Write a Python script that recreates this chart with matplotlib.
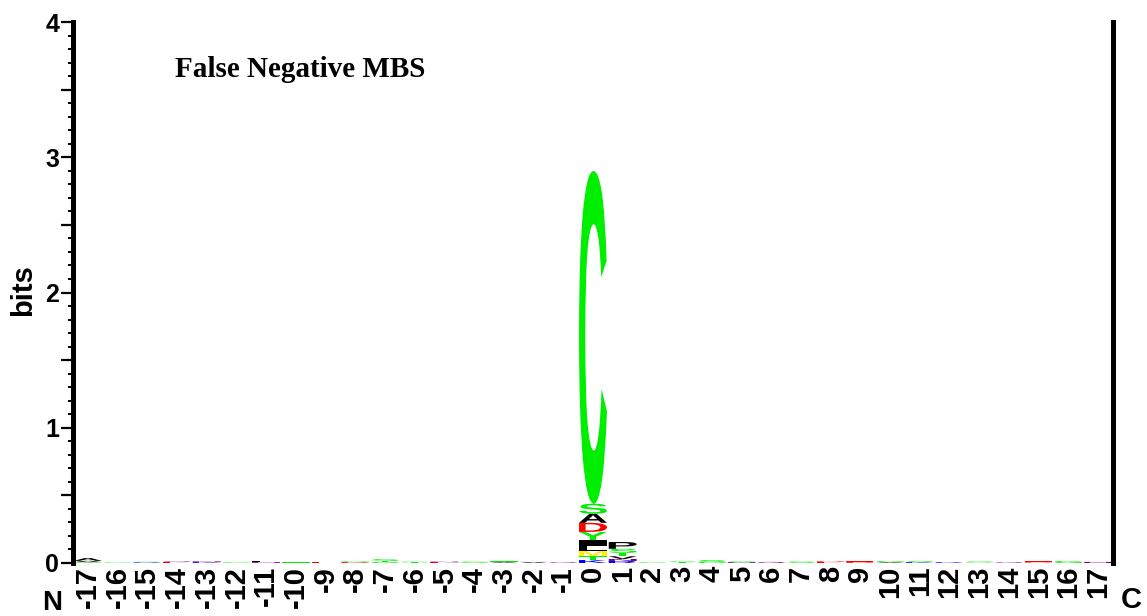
import matplotlib
matplotlib.use("Agg")
import matplotlib.pyplot as plt
from matplotlib.textpath import TextPath
from matplotlib.patches import PathPatch
from matplotlib.font_manager import FontProperties
from matplotlib.transforms import Affine2D
from matplotlib.ticker import MultipleLocator, FuncFormatter

W, H = 1147, 616

positions = list(range(-17, 18))

# residues in each column, bottom to top, with their heights in bits
stack_letters = [
    "GVA", "GE", "SR", "EQ", "KN", "GT", "NL", "TS", "E", "DG",
    "GTS", "TG", "EN", "GS", "AT", "V", "Q",
    "KTMLIYDASC",
    "RNVTSP",
    "GT", "TS", "GS", "NS", "Q", "S", "ED", "DE", "AG", "KS",
    "RE", "GTS", "Q", "DE", "G", "N",
]
stack_heights = [
    [0.006, 0.010, 0.020], [0.004, 0.004], [0.004, 0.004], [0.006, 0.006], [0.006, 0.006],
    [0.005, 0.005], [0.006, 0.006], [0.004, 0.004], [0.006], [0.006, 0.006],
    [0.008, 0.008, 0.012], [0.005, 0.005], [0.005, 0.005], [0.005, 0.005], [0.006, 0.006],
    [0.008], [0.006],
    [0.022, 0.030, 0.037, 0.037, 0.044, 0.060, 0.067, 0.067, 0.074, 2.46],
    [0.015, 0.015, 0.020, 0.025, 0.030, 0.050],
    [0.005, 0.005], [0.006, 0.006], [0.010, 0.012, 0.020], [0.006, 0.006], [0.008],
    [0.010], [0.006, 0.006], [0.006, 0.006], [0.006, 0.008], [0.006, 0.008],
    [0.005, 0.005], [0.004, 0.004, 0.004], [0.006], [0.004, 0.008], [0.015], [0.008],
]

colors = {}
for aa in "GSTYC":
    colors[aa] = "#00ee00"
for aa in "DE":
    colors[aa] = "#ff0000"
for aa in "KRH":
    colors[aa] = "#0000ff"
for aa in "AVLIPWF":
    colors[aa] = "#000000"
for aa in "NQ":
    colors[aa] = "#800080"
colors["M"] = "#ffee00"

letter_font = FontProperties(family="Liberation Sans", weight="bold")


def draw_letter(ax, ch, x, y, w, h, color):
    path = TextPath((0, 0), ch, size=1, prop=letter_font)
    ext = path.get_extents()
    t = (Affine2D()
         .translate(-ext.x0, -ext.y0)
         .scale(w / ext.width, h / ext.height)
         .translate(x, y))
    ax.add_patch(PathPatch(t.transform_path(path), facecolor=color,
                           edgecolor="none", lw=0))


fig = plt.figure(figsize=(W / 100, H / 100), dpi=100)
ax = fig.add_axes([73 / W, (H - 563) / H, (1113 - 73) / W, (563 - 22) / H])

col_w = 0.94
for pos, letters, heights in zip(positions, stack_letters, stack_heights):
    base = 0.0
    for ch, h in zip(letters, heights):
        draw_letter(ax, ch, pos - col_w / 2, base, col_w, h, colors[ch])
        base += h

ax.set_xlim(-17.5, 17.5)
ax.set_ylim(0, 4)

ax.spines["top"].set_visible(False)
ax.spines["bottom"].set_visible(False)
for side in ("left", "right"):
    ax.spines[side].set_linewidth(3.6)
    ax.spines[side].set_color("black")

ax.yaxis.set_major_locator(MultipleLocator(0.5))
ax.yaxis.set_minor_locator(MultipleLocator(0.1))
ax.yaxis.set_major_formatter(FuncFormatter(lambda v, _: f"{int(v)}" if v == int(v) else ""))
ax.tick_params(axis="y", which="major", length=9, width=1.6, pad=1,
               labelsize=18, right=False)
ax.tick_params(axis="y", which="minor", length=3.5, width=1.4, right=False)
for lab in ax.get_yticklabels():
    lab.set_fontweight("bold")
    lab.set_family("Liberation Sans")

ax.set_xticks(positions)
ax.set_xticklabels([str(p) for p in positions], rotation=90, va="top", ha="center",
                   fontsize=21, fontweight="bold", family="Liberation Sans")
ax.tick_params(axis="x", length=0, pad=2)

fig.text(23 / W, 1 - 290 / H, "bits", rotation=90, ha="center", va="center",
         fontsize=21, fontweight="bold", family="Liberation Sans")
fig.text(52 / W, 1 - 590 / H, "N", ha="center", va="top",
         fontsize=20, fontweight="bold", family="Liberation Sans")
fig.text(1131 / W, 1 - 586 / H, "C", ha="center", va="top",
         fontsize=21, fontweight="bold", family="Liberation Sans")
ax.text(175 / W, 1 - 77 / H, "False Negative MBS", transform=fig.transFigure,
        ha="left", va="baseline", fontsize=21, fontweight="bold",
        family="Liberation Serif")

fig.savefig("out.png", dpi=100)
